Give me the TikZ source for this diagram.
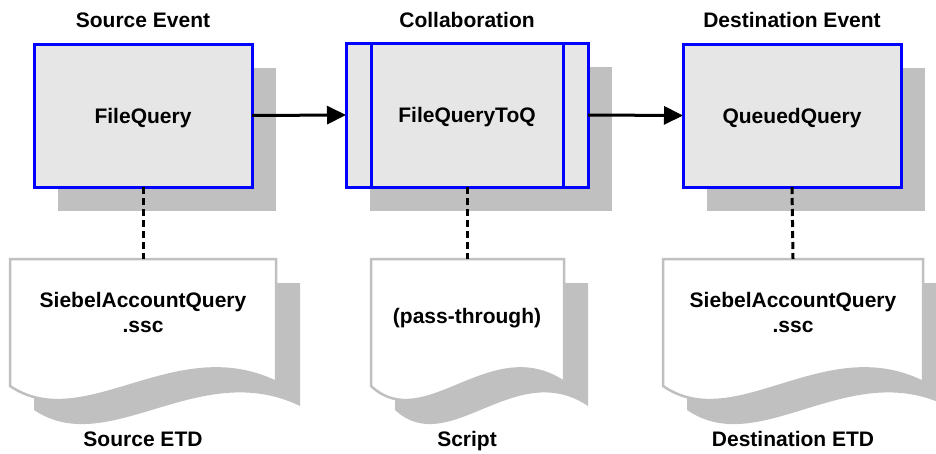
\documentclass[tikz,border=0pt]{standalone}
\usepackage{fontspec}
\setmainfont{Liberation Sans}
\usetikzlibrary{positioning,arrows.meta,calc,shadows}
\definecolor{evtblue}{RGB}{0,0,255}
\definecolor{evtfill}{RGB}{230,230,230}
\definecolor{shadowgray}{RGB}{192,192,192}
% document outline with a wavy foot, from left edge #1 to right edge #2
\newcommand\docpath[2]{(#1,259) -- (#2,259) -- (#2,382)
  .. controls ({#1+0.62*(#2-#1)},333) and ({#1+0.28*(#2-#1)},436) .. (#1,386) -- cycle}

\begin{document}
\begin{tikzpicture}[
    x=1pt, y=-1pt,
    font=\bfseries\fontsize{21}{25}\selectfont,
    event/.style={draw=evtblue, fill=evtfill, line width=3pt, inner sep=0pt, outer sep=0pt,
      minimum height=143pt, text height=15pt, text depth=0pt,
      drop shadow={shadow xshift=24pt, shadow yshift=-24pt, fill=shadowgray, opacity=1}},
    doc/.style={fill=white, draw=shadowgray, line width=2.5pt},
    docshadow/.style={fill=shadowgray},
    flow/.style={-{Triangle[length=19pt,width=18pt]}, line width=3pt},
    link/.style={line width=3pt, dash pattern=on 7pt off 4pt},
    caption/.style={anchor=base, inner sep=0pt},
  ]
  \useasboundingbox (0,0) rectangle (936,453);
  \clip (0,0) rectangle (936,453);

  % Documents with their shadows.
  \foreach \l/\r in {10/276, 371/564, 663/923} {
    \fill[docshadow, shift={(24,24)}] \docpath{\l}{\r};
    \draw[doc] \docpath{\l}{\r};
  }
  \coordinate (sdtop) at (143,259);
  \coordinate (sctop) at (467,259);
  \coordinate (ddtop) at (793,259);
  \node[align=center, inner sep=0pt] (sdoc) at (143,312) {SiebelAccountQuery\\.ssc};
  \node[caption] (sdesc) at (467,323) {(pass-through)};
  \node[align=center, inner sep=0pt] (ddoc) at (793,312) {SiebelAccountQuery\\.ssc};

  % Events and collaboration.
  \node[event, minimum width=218pt] (fq) at (143,115.5) {FileQuery};
  \node[event, minimum width=242pt, minimum height=144pt] (fqq) at (467,115) {FileQueryToQ};
  \node[event, minimum width=218pt] (qq) at (792,115.5) {QueuedQuery};
  \draw[evtblue, line width=3pt]
    ($(fqq.north west)+(25,0)$) -- ($(fqq.south west)+(25,0)$)
    ($(fqq.north east)+(-25,0)$) -- ($(fqq.south east)+(-25,0)$);

  \draw[flow] (fq.east) -- (fqq.west);
  \draw[flow] (fqq.east) -- (qq.west);
  \draw[link] (fq.south) -- (sdtop);
  \draw[link] (fqq.south) -- (sctop);
  \draw[link] (qq.south) -- (ddtop);

  % Titles and captions.
  \node[caption] (t1) at (143,27) {Source Event};
  \node[caption] (t2) at (467,27) {Collaboration};
  \node[caption] (t3) at (792,27) {Destination Event};
  \node[caption] (c1) at (143,446) {Source ETD};
  \node[caption] (c2) at (467,446) {Script};
  \node[caption] (c3) at (793,446) {Destination ETD};
\end{tikzpicture}
\end{document}
